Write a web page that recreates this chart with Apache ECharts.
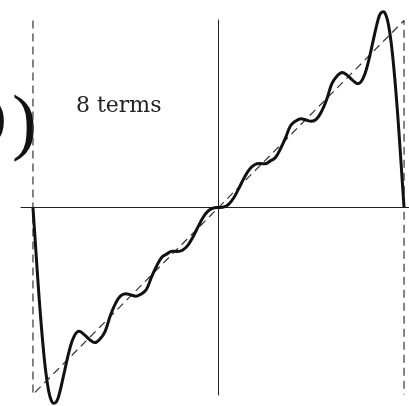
<!DOCTYPE html>
<html>
<head>
<meta charset="utf-8">
<script src="https://cdn.jsdelivr.net/npm/echarts@6/dist/echarts.min.js"></script>
<style>
html,body{margin:0;padding:0;background:#fff;}
#chart{width:409px;height:406px;}
</style>
</head>
<body>
<div id="chart"></div>
<script>
// x positions in degrees (-180..180 = -pi..pi)
const curveX = [-180,-177.5,-175,-172.5,-170,-167.5,-165,-162.5,-160,-157.5,-155,-150,-145,-140,-135,-130,-125,-120,-115,-110,-105,-100,-95,-90,-85,-80,-75,-70,-65,-60,-55,-50,-45,-40,-35,-30,-25,-20,-15,-10,-5,0,5,10,15,20,25,30,35,40,45,50,55,60,65,70,75,80,85,90,95,100,105,110,115,120,125,130,135,140,145,150,155,157.5,160,162.5,165,167.5,170,172.5,175,177.5,180];
// 8-term approximation values
const curveY = [0,-0.64,-1.28,-1.86,-2.36,-2.77,-3.06,-3.23,-3.29,-3.27,-3.17,-2.80,-2.42,-2.16,-2.08,-2.14,-2.22,-2.27,-2.21,-2.08,-1.82,-1.615,-1.485,-1.448,-1.469,-1.489,-1.454,-1.377,-1.169,-0.983,-0.836,-0.779,-0.734,-0.738,-0.719,-0.641,-0.502,-0.330,-0.168,-0.057,-0.008,0,0.008,0.057,0.168,0.330,0.502,0.641,0.719,0.738,0.734,0.779,0.836,0.983,1.169,1.377,1.454,1.489,1.469,1.448,1.485,1.615,1.82,2.08,2.21,2.27,2.22,2.14,2.08,2.16,2.42,2.80,3.17,3.27,3.29,3.23,3.06,2.77,2.36,1.86,1.28,0.64,0];
// dashed sawtooth target
const sawX = [-180,-180,180,180];
const sawY = [3.1416,-3.1416,3.1416,-3.1416];
const label = '8 terms';
const sideText1 = 'O';
const sideText2 = ')';

const chart = echarts.init(document.getElementById('chart'), null, {renderer:'canvas'});
chart.setOption({
  animation:false,
  backgroundColor:'#fff',
  grid:{left:21,right:0,top:20,bottom:11,containLabel:false},
  xAxis:{type:'value',min:-191.6,max:184.8,
    axisLine:{show:true,onZero:true,lineStyle:{color:'#222',width:1}},
    axisTick:{show:false},axisLabel:{show:false},splitLine:{show:false}},
  yAxis:{type:'value',min:-3.15,max:3.15,
    axisLine:{show:true,onZero:true,lineStyle:{color:'#222',width:1}},
    axisTick:{show:false},axisLabel:{show:false},splitLine:{show:false}},
  series:[
    {type:'line',data:sawX.map((x,i)=>[x,sawY[i]]),showSymbol:false,silent:true,clip:false,
      lineStyle:{color:'#333',width:1.2,type:[8,5]}},
    {type:'line',data:curveX.map((x,i)=>[x,curveY[i]]),showSymbol:false,silent:true,clip:false,smooth:0.4,
      lineStyle:{color:'#111',width:3}}
  ],
  graphic:[
    {type:'text',left:76,top:95,silent:true,style:{text:label,font:'22px "DejaVu Serif"',fill:'#222'}},
    {type:'text',x:7,y:126,silent:true,style:{text:sideText1,font:'75px "Liberation Serif"',fill:'#111',align:'right',verticalAlign:'middle'}},
    {type:'text',x:12,y:126,silent:true,style:{text:sideText2,font:'75px "Liberation Serif"',fill:'#111',align:'left',verticalAlign:'middle'}}
  ]
});
</script>
</body>
</html>
